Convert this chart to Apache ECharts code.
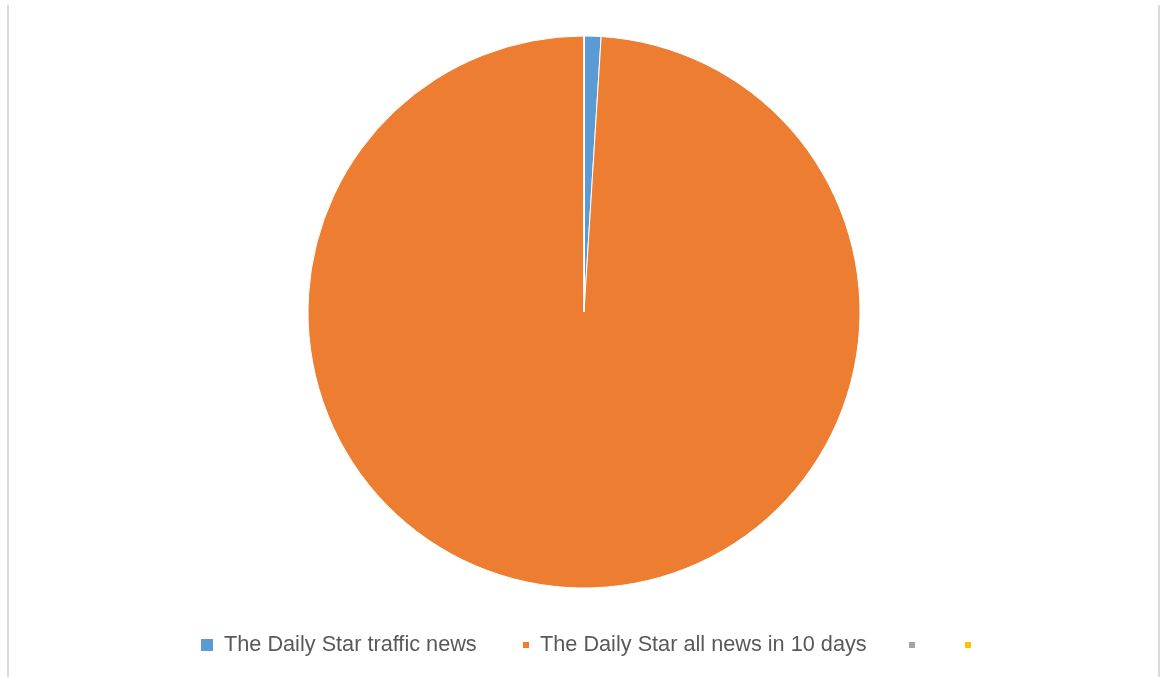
<!DOCTYPE html>
<html>
<head>
<meta charset="utf-8">
<script src="https://cdn.jsdelivr.net/npm/echarts@6/dist/echarts.min.js"></script>
<style>
  html, body { margin: 0; padding: 0; background: #ffffff; }
  #chart { width: 1160px; height: 677px; }
</style>
</head>
<body>
<div id="chart"></div>
<script>
// Share of traffic news among all Daily Star news over 10 days
const categories = [
  'The Daily Star traffic news',
  'The Daily Star all news in 10 days',
  ' ',
  '  '
];
const values = [10, 1000, 0, 0];
const colors = ['#5B9BD5', '#ED7D31', '#A5A5A5', '#FFC000'];

const chart = echarts.init(document.getElementById('chart'), null, { renderer: 'canvas' });

const legendText = {
  color: '#595959',
  fontSize: 21.7,
  fontFamily: 'Liberation Sans, Arial, sans-serif',
  padding: [0, 0, 0, 5]
};

function legendFor(idx, left, top, size) {
  return {
    data: [{ name: categories[idx], icon: 'rect' }],
    left: left,
    top: top,
    itemWidth: size,
    itemHeight: size,
    itemGap: 0,
    padding: 0,
    selectedMode: false,
    textStyle: legendText
  };
}

chart.setOption({
  backgroundColor: '#ffffff',
  animation: false,
  color: colors,
  legend: [
    legendFor(0, 199, 634, 14),
    legendFor(1, 521, 634, 8),
    legendFor(2, 907, 634, 8),
    legendFor(3, 963, 634, 8)
  ],
  graphic: [
    { type: 'line', shape: { x1: 8, y1: 5, x2: 8, y2: 677 }, style: { stroke: '#d9d9d9', lineWidth: 2 } },
    { type: 'line', shape: { x1: 1159, y1: 5, x2: 1159, y2: 677 }, style: { stroke: '#d9d9d9', lineWidth: 2 } }
  ],
  series: [{
    type: 'pie',
    center: [584, 312],
    radius: 276,
    startAngle: 90,
    clockwise: true,
    stillShowZeroSum: false,
    label: { show: false },
    labelLine: { show: false },
    emphasis: { disabled: true },
    itemStyle: { borderColor: '#ffffff', borderWidth: 1 },
    data: categories.map((name, i) => ({ name: name, value: values[i] }))
  }]
});
</script>
</body>
</html>
